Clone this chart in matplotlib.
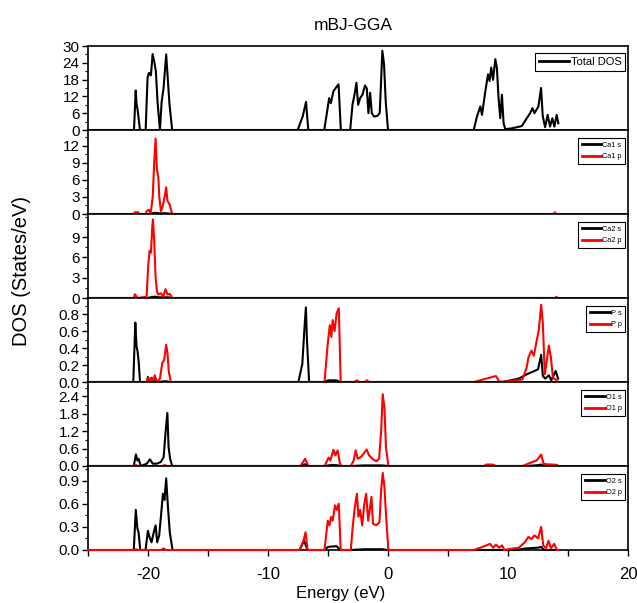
import numpy as np
import matplotlib
matplotlib.use("Agg")
import matplotlib.pyplot as plt
from matplotlib.ticker import MultipleLocator, AutoMinorLocator, FormatStrFormatter

plt.rcParams['font.family'] = ['Liberation Sans', 'DejaVu Sans']
plt.rcParams['axes.unicode_minus'] = False

# (energy eV, DOS) knots for each projected curve
total_dos = [(-25, 0), (-21.16, 0), (-21.02, 14.1), (-20.94, 9), (-20.86, 7.2), (-20.66, 0),
             (-20.19, 0), (-20.03, 18.7), (-19.92, 20.4), (-19.75, 19.5), (-19.61, 27.1),
             (-19.48, 24.6), (-19.34, 21), (-19.2, 10.1), (-19.0, 0), (-18.86, 10), (-18.7, 14.9),
             (-18.48, 27), (-18.37, 19.9), (-18.2, 9), (-17.98, 0),
             (-7.53, 0), (-7.11, 4.8), (-6.83, 10), (-6.64, 0), (-5.31, 0), (-5.03, 7.8),
             (-4.90, 11.4), (-4.76, 9.6), (-4.54, 13.9), (-4.34, 15.1), (-4.12, 16.3), (-3.93, 0),
             (-3.15, 0), (-2.96, 9), (-2.79, 12.6), (-2.63, 16.9), (-2.49, 9), (-2.32, 11.4),
             (-2.13, 12.6), (-1.91, 15.9), (-1.77, 14.9), (-1.63, 6), (-1.49, 13.3), (-1.35, 6),
             (-1.16, 4.8), (-0.88, 5.1), (-0.69, 6), (-0.47, 28.3), (-0.33, 23.5), (-0.19, 10.2),
             (0.0, 0), (7.14, 0), (7.41, 4.8), (7.69, 8.4), (7.83, 5.4), (8.11, 13.9), (8.33, 19.9),
             (8.46, 17.5), (8.60, 22.3), (8.75, 17.9), (8.94, 25.3), (9.07, 22.3), (9.21, 11.4),
             (9.35, 4.2), (9.49, 12.6), (9.63, 2.4), (9.77, 0.3), (10.32, 0.6), (11.15, 1.4),
             (11.56, 4.2), (11.84, 6), (12.03, 7.8), (12.2, 6), (12.53, 8.4), (12.75, 15),
             (12.89, 5), (13.09, 1), (13.3, 5.4), (13.5, 1.2), (13.69, 4.2), (13.86, 1.2),
             (14.05, 5.4), (14.19, 2.4)]

ca1_s = [(-25, 0), (-19.8, 0), (-19.6, 0.15), (-19.3, 0.2), (-19.0, 0.1), (-18.6, 0.15),
         (-18.3, 0.1), (-18.0, 0), (14.2, 0)]
ca1_p = [(-25, 0), (-21.2, 0), (-21.1, 0.3), (-20.8, 0.3), (-20.7, 0), (-20.2, 0), (-20.1, 0.5),
         (-19.93, 0.75), (-19.77, 0.1), (-19.6, 3), (-19.48, 9), (-19.36, 13.3), (-19.25, 7.8),
         (-19.14, 6.6), (-19.05, 3), (-18.92, 0.5), (-18.8, 1.1), (-18.59, 3.2), (-18.48, 4.7),
         (-18.37, 2.3), (-18.2, 1.7), (-17.98, 0), (13.8, 0), (13.9, 0.3), (14.0, 0), (14.2, 0)]

ca2_s = [(-25, 0), (-20.0, 0), (-19.7, 0.15), (-19.4, 0.2), (-19.1, 0.1), (-18.7, 0.1),
         (-18.3, 0.1), (-18.0, 0), (14.2, 0)]
ca2_p = [(-25, 0), (-21.19, 0), (-21.08, 0.55), (-20.86, 0), (-20.11, 0.2), (-19.97, 5),
         (-19.86, 7), (-19.75, 6.7), (-19.64, 10.5), (-19.58, 11.6), (-19.48, 8.5), (-19.36, 3),
         (-19.25, 1), (-19.14, 0.5), (-18.92, 0.7), (-18.73, 0.2), (-18.53, 1.3), (-18.37, 0.5),
         (-18.17, 0.6), (-17.98, 0), (13.9, 0), (14.0, 0.15), (14.2, 0)]

p_s = [(-25, 0), (-21.22, 0), (-21.05, 0.70), (-20.95, 0.42), (-20.86, 0.36), (-20.76, 0.22),
       (-20.66, 0), (-20.1, 0), (-20.0, 0.06), (-19.9, 0.01), (-19.7, 0.05), (-19.6, 0.01),
       (-19.4, 0.04), (-19.2, 0), (-18.5, 0.01), (-18.2, 0), (-7.47, 0), (-7.14, 0.21),
       (-6.97, 0.61), (-6.84, 0.88), (-6.75, 0.49), (-6.57, 0), (-5.3, 0), (-5.0, 0.02),
       (-4.3, 0.02), (-4.0, 0), (9.5, 0), (10.9, 0.04), (11.55, 0.09), (12.2, 0.13),
       (12.5, 0.15), (12.76, 0.32), (12.9, 0.07), (13.1, 0.04), (13.4, 0.08), (13.6, 0.02),
       (13.97, 0.13), (14.17, 0.04)]
p_p = [(-25, 0), (-20.11, 0), (-19.97, 0.05), (-19.83, 0.01), (-19.7, 0.05), (-19.56, 0.02),
       (-19.42, 0.08), (-19.28, 0), (-19.0, 0.04), (-18.81, 0.22), (-18.65, 0.26),
       (-18.48, 0.44), (-18.37, 0.34), (-18.26, 0.12), (-18.09, 0), (-5.29, 0), (-5.02, 0.45),
       (-4.85, 0.67), (-4.72, 0.53), (-4.61, 0.73), (-4.45, 0.6), (-4.28, 0.81), (-4.1, 0.87),
       (-3.94, 0), (-2.8, 0), (-2.6, 0.02), (-2.4, 0), (-1.9, 0), (-1.75, 0.02), (-1.6, 0),
       (7.17, 0), (8.2, 0.04), (8.7, 0.06), (9.0, 0.07), (9.25, 0.01), (9.5, 0), (11.2, 0.03),
       (11.55, 0.17), (11.7, 0.29), (11.95, 0.37), (12.15, 0.31), (12.39, 0.49), (12.56, 0.61),
       (12.76, 0.91), (12.9, 0.69), (13.06, 0.09), (13.23, 0.25), (13.4, 0.43), (13.57, 0.29),
       (13.74, 0.05), (13.95, 0.03), (14.17, 0)]

o1_s = [(-25, 0), (-21.18, 0), (-21.0, 0.4), (-20.88, 0.19), (-20.78, 0.25), (-20.6, 0),
        (-20.1, 0.08), (-19.83, 0.23), (-19.6, 0.08), (-19.26, 0.08), (-18.92, 0.14),
        (-18.69, 0.31), (-18.52, 1.22), (-18.38, 1.83), (-18.28, 0.65), (-18.15, 0.25),
        (-17.98, 0), (-7.3, 0), (-7.0, 0.05), (-6.9, 0.06), (-6.63, 0), (-5.3, 0), (-4.8, 0.03),
        (-4.3, 0.03), (-3.9, 0), (-3.1, 0), (-2.0, 0.02), (-0.5, 0.02), (0.0, 0), (11.5, 0),
        (12.5, 0.03), (12.76, 0.05), (13.0, 0), (14.17, 0)]
o1_p = [(-25, 0), (-21.2, 0), (-21.0, 0.03), (-20.8, 0), (-18.8, 0), (-18.6, 0.03), (-18.4, 0),
        (-7.3, 0), (-6.9, 0.25), (-6.63, 0), (-5.29, 0), (-4.95, 0.29), (-4.8, 0.19),
        (-4.55, 0.56), (-4.38, 0.37), (-4.2, 0.54), (-4.0, 0.08), (-3.87, 0), (-3.1, 0),
        (-2.86, 0.19), (-2.69, 0.54), (-2.52, 0.25), (-2.26, 0.31), (-1.99, 0.45), (-1.78, 0.57),
        (-1.58, 0.37), (-1.31, 0.25), (-0.98, 0.16), (-0.74, 0.25), (-0.57, 1.22), (-0.44, 2.48),
        (-0.30, 2.02), (-0.17, 0.65), (0.03, 0), (8.0, 0), (8.2, 0.05), (8.7, 0.05), (9.0, 0),
        (11.2, 0), (11.55, 0.06), (12.05, 0.14), (12.39, 0.19), (12.76, 0.4), (12.96, 0.08),
        (13.23, 0.06), (14.07, 0.04), (14.17, 0)]

o2_s = [(-25, 0), (-21.18, 0), (-21.01, 0.52), (-20.88, 0.28), (-20.78, 0.23), (-20.64, 0),
        (-20.2, 0), (-20.0, 0.25), (-19.87, 0.17), (-19.7, 0.1), (-19.5, 0.24), (-19.36, 0.32),
        (-19.23, 0.1), (-19.06, 0.19), (-18.92, 0.43), (-18.75, 0.73), (-18.62, 0.65),
        (-18.48, 0.93), (-18.35, 0.6), (-18.18, 0.23), (-17.95, 0), (-7.37, 0), (-7.0, 0.12),
        (-6.7, 0), (-5.3, 0), (-5.0, 0.04), (-4.3, 0.05), (-3.94, 0), (-3.1, 0), (-2.0, 0.01),
        (-0.5, 0.01), (0.0, 0), (10.5, 0), (11.5, 0.02), (12.5, 0.03), (12.76, 0.04), (13.0, 0),
        (14.17, 0)]
o2_p = [(-25, 0), (-21.2, 0), (-21.0, 0.01), (-20.8, 0), (-18.9, 0), (-18.7, 0.02), (-18.5, 0),
        (-7.37, 0), (-7.04, 0.12), (-6.87, 0.23), (-6.7, 0), (-5.29, 0), (-5.02, 0.38),
        (-4.88, 0.32), (-4.75, 0.43), (-4.61, 0.38), (-4.41, 0.58), (-4.28, 0.52), (-4.1, 0.6),
        (-3.94, 0), (-3.1, 0), (-2.93, 0.32), (-2.76, 0.56), (-2.59, 0.73), (-2.46, 0.43),
        (-2.32, 0.52), (-2.15, 0.32), (-1.99, 0.58), (-1.82, 0.73), (-1.65, 0.38), (-1.52, 0.52),
        (-1.38, 0.69), (-1.25, 0.34), (-0.98, 0.32), (-0.71, 0.36), (-0.57, 0.78), (-0.44, 1.0),
        (-0.30, 0.82), (-0.17, 0.47), (0.03, 0), (7.17, 0), (7.7, 0.03), (8.2, 0.06),
        (8.5, 0.08), (8.75, 0.03), (9.0, 0.07), (9.25, 0.03), (9.5, 0.06), (9.7, 0), (10.0, 0.01),
        (10.9, 0.03), (11.4, 0.1), (11.7, 0.17), (11.95, 0.14), (12.2, 0.19), (12.5, 0.15),
        (12.76, 0.3), (12.93, 0.06), (13.16, 0.02), (13.37, 0.12), (13.57, 0.02), (13.84, 0.08),
        (14.07, 0), (14.17, 0)]

panels = [
    [("Total DOS", total_dos, "black")],
    [("Ca1 s", ca1_s, "black"), ("Ca1 p", ca1_p, "red")],
    [("Ca2 s", ca2_s, "black"), ("Ca2 p", ca2_p, "red")],
    [("P s", p_s, "black"), ("P p", p_p, "red")],
    [("O1 s", o1_s, "black"), ("O1 p", o1_p, "red")],
    [("O2 s", o2_s, "black"), ("O2 p", o2_p, "red")],
]
y_tops = [30, 14.8, 12.4, 0.99, 2.9, 1.09]
y_steps = [6, 3, 3, 0.2, 0.6, 0.3]
y_max_tick = [30, 12, 9, 0.8, 2.4, 0.9]
y_fmt = ["%d", "%d", "%d", "%.1f", "%.1f", "%.1f"]

fig, axes = plt.subplots(6, 1, sharex=True, figsize=(6.37, 6.03), dpi=100)
fig.subplots_adjust(left=0.138, right=0.986, top=0.9237, bottom=0.0879, hspace=0)

for i, ax in enumerate(axes):
    for label, pts, color in panels[i]:
        e, d = np.array(pts).T
        ax.plot(e, d, color=color, lw=1.5, label=label, zorder=3, clip_on=False)
    ax.set_xlim(-25, 20)
    ax.set_ylim(0, y_tops[i])
    ax.set_yticks(np.arange(0, y_max_tick[i] + y_steps[i] / 2, y_steps[i]))
    ax.yaxis.set_major_formatter(FormatStrFormatter(y_fmt[i]))
    ax.yaxis.set_minor_locator(AutoMinorLocator(2))
    ax.tick_params(axis='y', which='major', direction='out', length=4, width=1,
                   labelsize=11, pad=2)
    ax.tick_params(axis='y', which='minor', direction='out', length=2.5, width=0.8)
    for sp in ax.spines.values():
        sp.set_linewidth(1.2)
    if i == 0:
        leg = ax.legend(loc='upper right', bbox_to_anchor=(0.995, 0.92), borderaxespad=0,
                        fontsize=8, handlelength=2.7, handletextpad=0.2, borderpad=0.35,
                        fancybox=False, edgecolor='black', framealpha=1)
    else:
        leg = ax.legend(loc='upper right', bbox_to_anchor=(0.995, 0.905), borderaxespad=0,
                        fontsize=5.3, handlelength=2.7, handletextpad=0.1, borderpad=0.5,
                        labelspacing=0.6, fancybox=False, edgecolor='black', framealpha=1)
    leg.get_frame().set_linewidth(0.8)
    for line in leg.get_lines():
        line.set_linewidth(2)
    if i < 5:
        ax.tick_params(axis='x', which='both', bottom=False)

axes[-1].xaxis.set_major_locator(MultipleLocator(10))
axes[-1].xaxis.set_minor_locator(MultipleLocator(5))
axes[-1].tick_params(axis='x', which='major', direction='out', length=4.5, width=1,
                     labelsize=12, pad=8)
axes[-1].tick_params(axis='x', which='minor', direction='out', length=4.5, width=1)

fig.text(0.555, 0.950, "mBJ-GGA", ha='center', va='baseline', fontsize=12.5)
fig.text(0.033, 0.55, "DOS (States/eV)", ha='center', va='center', rotation=90, fontsize=14.5)
fig.text(0.534, 0.008, "Energy (eV)", ha='center', va='baseline', fontsize=12)

fig.savefig("out.png", dpi=100)
